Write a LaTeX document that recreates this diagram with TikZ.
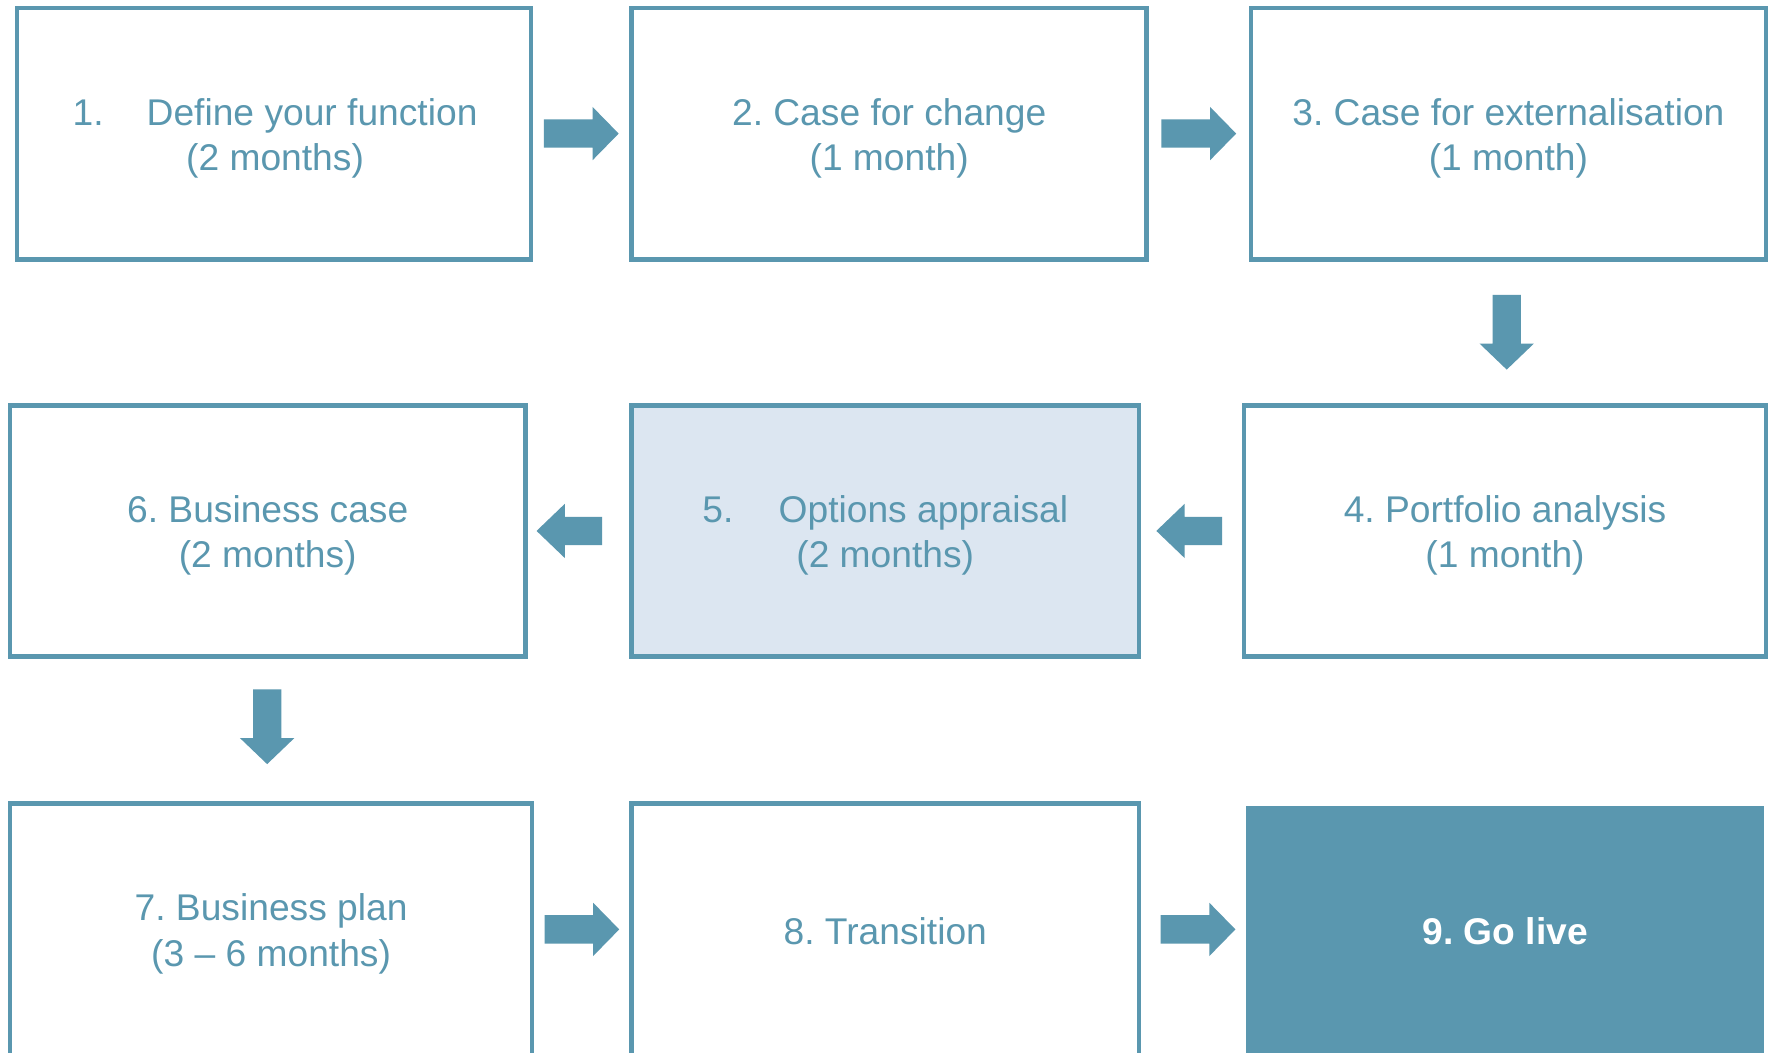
\documentclass[tikz,border=0pt]{standalone}
\usepackage{fontspec}
\setmainfont{Liberation Sans}
\usetikzlibrary{calc}
\frenchspacing
\definecolor{teal}{HTML}{5A97AF}
\definecolor{lightfill}{HTML}{DCE6F1}
\tikzset{
  stepbox/.style={draw=teal, line width=0.08cm, inner sep=0pt,
    minimum height=222*0.02cm},
  steptext/.style={text=teal, align=center,
    font=\fontsize{18.7pt}{22.8pt}\selectfont, inner sep=0pt},
  finalbox/.style={fill=teal, draw=none, inner sep=0pt,
    minimum height=218*0.02cm, minimum width=457*0.02cm},
  finaltext/.style={text=white, align=center,
    font=\fontsize{18.7pt}{22.8pt}\selectfont\bfseries, inner sep=0pt},
  arrfill/.style={fill=teal, draw=none}
}
\newcommand\rarr[1]{\fill[arrfill] (#1) ++(-33,-12.5) -- ++(43,0) -- ++(0,-11) -- ++(23,23.5) -- ++(-23,23.5) -- ++(0,-11) -- ++(-43,0) -- cycle;}
\newcommand\larr[1]{\fill[arrfill] (#1) ++(29,-12.5) -- ++(-33,0) -- ++(0,-11.5) -- ++(-25,24) -- ++(25,24) -- ++(0,-11.5) -- ++(33,0) -- cycle;}
\newcommand\darr[1]{\fill[arrfill] (#1) ++(-12.5,-33) -- ++(0,43) -- ++(-11.5,0) -- ++(24,23) -- ++(24,-23) -- ++(-11.5,0) -- ++(0,-43) -- cycle;}
\begin{document}
\begin{tikzpicture}[x=0.02cm, y=-0.02cm]
\useasboundingbox (0,0) rectangle (1568,930);
\clip (0,0) rectangle (1568,930);
\fill[white] (0,0) rectangle (1568,930);
% row 1
\node[stepbox, minimum width=454*0.02cm] (b1) at (242,118) {};
\node[stepbox, minimum width=455*0.02cm] (b2) at (785.5,118) {};
\node[stepbox, minimum width=455*0.02cm] (b3) at (1332.5,118) {};
% row 2
\node[stepbox, minimum width=461*0.02cm] (b4) at (1329.5,469) {};
\node[stepbox, fill=lightfill, minimum width=448*0.02cm] (b5) at (782,469) {};
\node[stepbox, minimum width=455*0.02cm] (b6) at (236.5,469) {};
% row 3
\node[stepbox, minimum width=461*0.02cm] (b7) at (239.5,821) {};
\node[stepbox, minimum width=448*0.02cm] (b8) at (782,821) {};
\node[finalbox] (b9) at (1329.5,821) {};
% texts
\node[steptext] (t1) at ($(b1.center)+(1,4)$) {1.\hspace{0.76cm}Define your function\\(2 months)};
\node[steptext] (t2) at ($(b2.center)+(0,4)$) {2. Case for change\\(1 month)};
\node[steptext] (t3) at ($(b3.center)+(0,4)$) {3. Case for externalisation\\(1 month)};
\node[steptext] (t4) at ($(b4.center)+(0,4)$) {4. Portfolio analysis\\(1 month)};
\node[steptext] (t5) at ($(b5.center)+(0,4)$) {5.\hspace{0.8cm}Options appraisal\\(2 months)};
\node[steptext] (t6) at ($(b6.center)+(0,4)$) {6. Business case\\(2 months)};
\node[steptext] (t7) at ($(b7.center)+(0,4)$) {7. Business plan\\(3 -- 6 months)};
\node[steptext] (t8) at ($(b8.center)+(0,2)$) {8. Transition};
\node[finaltext] (t9) at ($(b9.center)+(0,2)$) {9. Go live};
% connectors
\coordinate (a12) at ($(b1.east)!0.5!(b2.west)$);
\coordinate (a23) at ($(b2.east)!0.5!(b3.west)$);
\coordinate (a34) at ($(b3.south)!0.5!(b4.north)$);
\coordinate (a45) at ($(b4.west)!0.5!(b5.east)+(-2,0)$);
\coordinate (a56) at ($(b5.west)!0.5!(b6.east)+(-8,0)$);
\coordinate (a67) at ($(b6.south)!0.5!(b7.north)+(-2,-3)$);
\coordinate (a78) at ($(b7.east)!0.5!(b8.west)$);
\coordinate (a89) at ($(b8.east)!0.5!(b9.west)+(4,0)$);
\rarr{a12}
\rarr{a23}
\darr{a34}
\larr{a45}
\larr{a56}
\darr{a67}
\rarr{a78}
\rarr{a89}
\end{tikzpicture}
\end{document}
